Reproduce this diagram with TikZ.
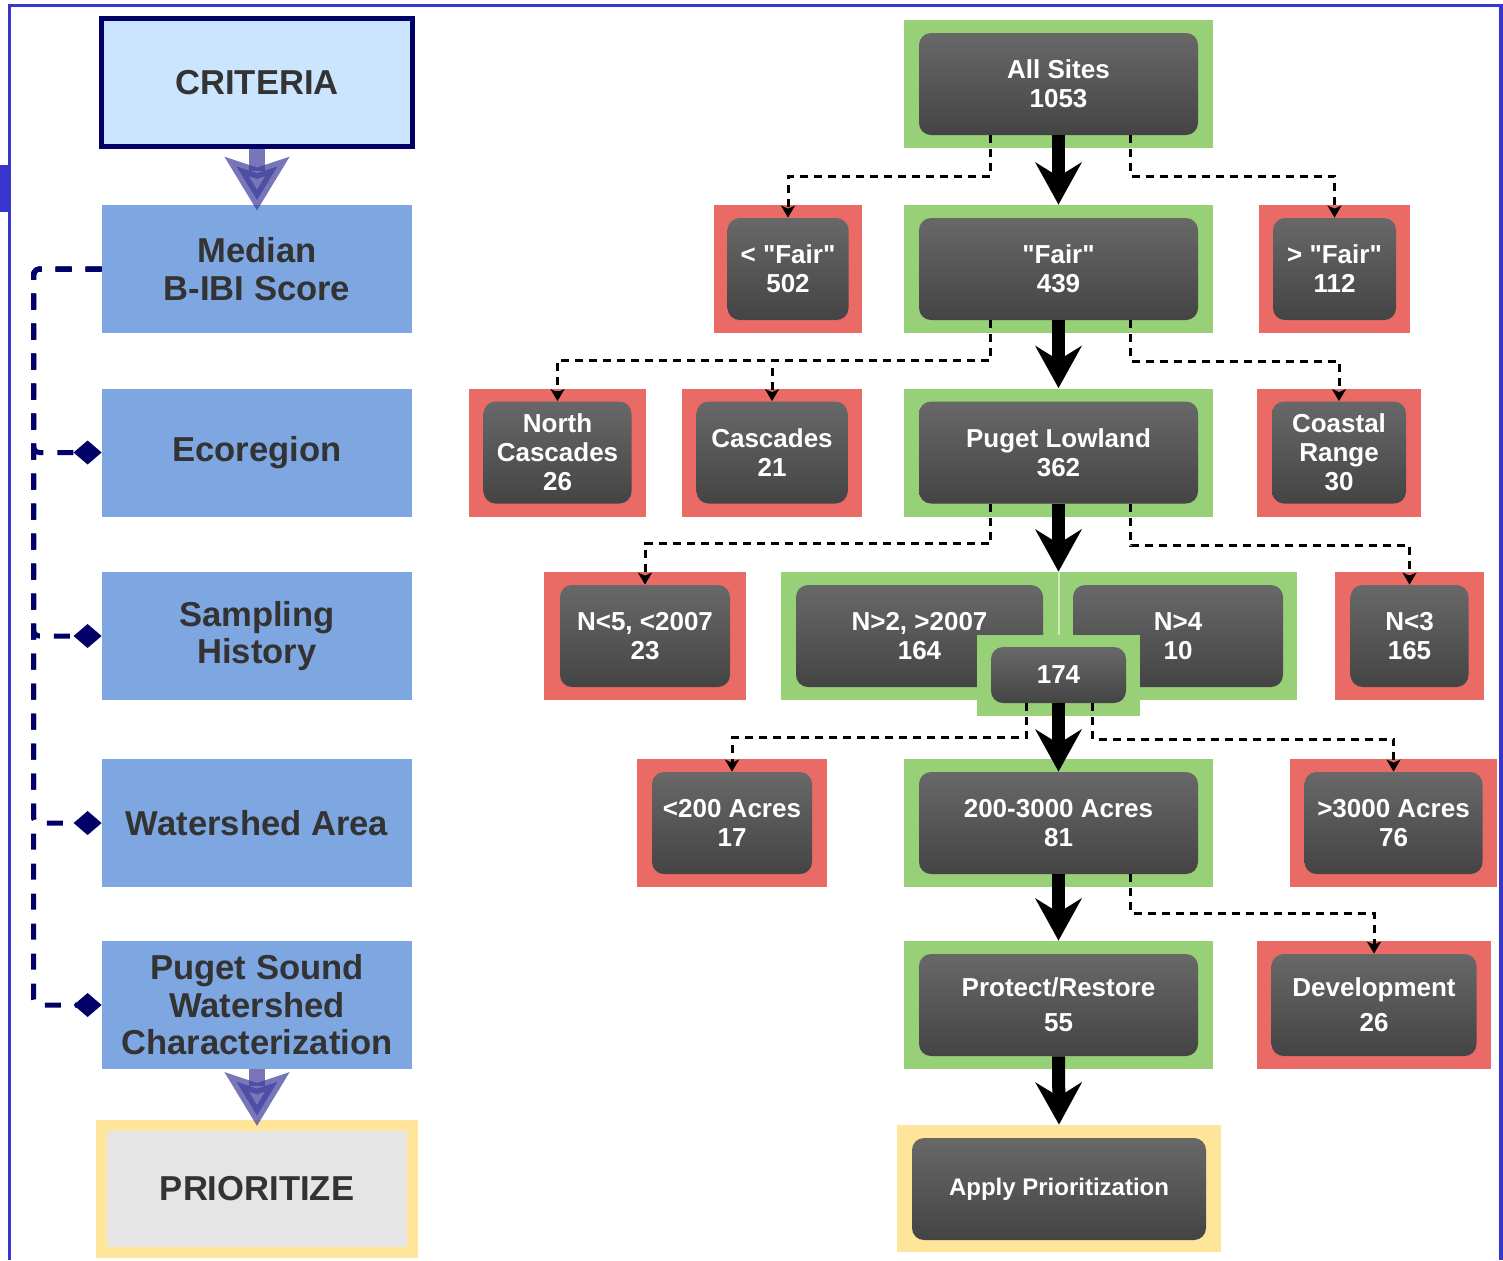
\documentclass[tikz,border=0pt]{standalone}
\usepackage{fontspec}
\setmainfont{Liberation Sans}[Ligatures=TeXOff]
\usetikzlibrary{positioning}
\usetikzlibrary{calc}
\usetikzlibrary{arrows.meta}
\definecolor{passgreen}{RGB}{151,208,119}
\definecolor{failred}{RGB}{234,107,102}
\definecolor{boxtop}{RGB}{104,104,104}
\definecolor{boxbot}{RGB}{68,68,68}
\definecolor{critblue}{RGB}{126,166,224}
\definecolor{critlight}{RGB}{204,229,255}
\definecolor{critnavy}{RGB}{0,0,102}
\definecolor{prioyellow}{RGB}{255,229,153}
\definecolor{priogray}{RGB}{229,229,229}
\definecolor{labelgray}{RGB}{51,51,51}
\definecolor{frameblue}{RGB}{55,55,205}
\definecolor{flowpurple}{RGB}{60,60,155}

\begin{document}
\begin{tikzpicture}[x=0.5pt,y=-0.5pt,
    greenbox/.style={fill=passgreen, inner sep=0pt, minimum height=64pt},
    redbox/.style={fill=failred, inner sep=0pt, minimum height=64pt},
    darkbox/.style={rounded corners=6pt, top color=boxtop, bottom color=boxbot, text=white,
      inner sep=0pt, minimum height=51pt, align=center, font=\fontsize{13}{14.5}\selectfont\bfseries},
    critbox/.style={fill=critblue, inner sep=0pt, minimum width=155pt, minimum height=64pt,
      align=center, text=labelgray, font=\fontsize{17.3}{18.7}\selectfont\bfseries},
    mainflow/.style={line width=6.5pt, -{Stealth[length=21pt,width=23pt,inset=7pt]}},
    sideflow/.style={line width=1.5pt, dash pattern=on 4pt off 3pt, -{Stealth[length=6pt,width=7pt,inset=1.5pt]}},
    critflow/.style={draw=flowpurple, draw opacity=0.7, fill opacity=0.7, line width=8pt,
      -{Stealth[length=26.5pt,width=31.5pt,inset=5pt]}, shorten >=-3pt},
    critlink/.style={draw=critnavy, line width=2.5pt, dash pattern=on 8pt off 7pt, rounded corners=3pt,
      -{Diamond[length=14pt,width=12pt,fill=critnavy]}}]
  \useasboundingbox (0,0) rectangle (1503,1260);

  % frame
  \fill [frameblue] (0,165) rectangle (9,212);
  \draw [frameblue, line width=1.75pt] (9.5,1260) -- (9.5,5.5) -- (1501,5.5) -- (1501,1260);

  % criteria column
  \node [critbox, fill=critlight, draw=critnavy, line width=2.5pt, minimum width=155.5pt, minimum height=64pt] (crit) at (257,82.5) {CRITERIA};
  \node [critbox] (med) at (257,269) {Median\\B-IBI Score};
  \node [critbox] (eco) at (257,452.5) {Ecoregion};
  \node [critbox] (samp) at (257,636) {Sampling\\History};
  \node [critbox] (wsa) at (257,823) {Watershed Area};
  \node [critbox] (pswc) at (257,1005) {Puget Sound\\Watershed\\Characterization};
  \node [critbox, fill=priogray, draw=prioyellow, line width=5.5pt, minimum width=155.5pt, minimum height=63.5pt] (prio) at (257,1189) {PRIORITIZE};

  \draw [critflow] (crit.south) -- (med.north);
  \draw [critflow] (pswc.south) -- (prio.north);

  \draw [critlink] (med.west) -- ++(-68,0) |- (eco.west);
  \draw [critlink] (med.west) -- ++(-68,0) |- (samp.west);
  \draw [critlink] (med.west) -- ++(-68,0) |- (wsa.west);
  \draw [critlink] (med.west) -- ++(-68,0) |- (pswc.west);

  % site tree
  \node [greenbox, minimum width=154.5pt] (all-bg) at (1058.5,84) {};
  \node [darkbox, minimum width=139.5pt] (all) at (1058.5,84) {All Sites\\1053};

  \node [redbox, minimum width=74pt] (ltfair-bg) at (788,269) {};
  \node [darkbox, minimum width=60.5pt] (ltfair) at (788,269) {< "Fair"\\502};
  \node [greenbox, minimum width=154.5pt] (fair-bg) at (1058.5,269) {};
  \node [darkbox, minimum width=139.5pt] (fair) at (1058.5,269) {"Fair"\\439};
  \node [redbox, minimum width=75.5pt] (gtfair-bg) at (1334.5,269) {};
  \node [darkbox, minimum width=61.5pt] (gtfair) at (1334.5,269) {> "Fair"\\112};

  \node [redbox, minimum width=88.5pt] (ncasc-bg) at (557.5,452.5) {};
  \node [darkbox, minimum width=74pt] (ncasc) at (557.5,452.5) {North\\Cascades\\26};
  \node [redbox, minimum width=90pt] (casc-bg) at (772,452.5) {};
  \node [darkbox, minimum width=75.5pt] (casc) at (772,452.5) {Cascades\\21};
  \node [greenbox, minimum width=154.5pt] (puget-bg) at (1058.5,452.5) {};
  \node [darkbox, minimum width=139.5pt] (puget) at (1058.5,452.5) {Puget Lowland\\362};
  \node [redbox, minimum width=82pt] (coast-bg) at (1339,452.5) {};
  \node [darkbox, minimum width=67pt] (coast) at (1339,452.5) {Coastal\\Range\\30};

  \node [redbox, minimum width=101pt] (nlt5-bg) at (645,636) {};
  \node [darkbox, minimum width=85pt] (nlt5) at (645,636) {N<5, <2007\\23};
  \node [greenbox, minimum width=258pt] (grp-bg) at (1039,636) {};
  \node [darkbox, minimum width=123.5pt] (ngt2) at (919.5,636) {N>2, >2007\\164};
  \node [darkbox, minimum width=105pt] (ngt4) at (1178,636) {N>4\\10};
  \node [greenbox, minimum width=81.5pt, minimum height=40.5pt] (n174-bg) at (1058.5,675.5) {};
  \node [darkbox, minimum width=67.5pt, minimum height=28pt] (n174) at (1058.5,675) {174};
  \draw [white!55!passgreen, line width=1pt] (n174-bg.north |- grp-bg.north) -- (n174-bg.north);
  \node [redbox, minimum width=74.5pt] (nlt3-bg) at (1409.5,636) {};
  \node [darkbox, minimum width=59pt] (nlt3) at (1409.5,636) {N<3\\165};

  \node [redbox, minimum width=95pt] (lt200-bg) at (732,823) {};
  \node [darkbox, minimum width=80pt] (lt200) at (732,823) {<200 Acres\\17};
  \node [greenbox, minimum width=154.5pt] (mid-bg) at (1058.5,823) {};
  \node [darkbox, minimum width=139.5pt] (mid) at (1058.5,823) {200-3000 Acres\\81};
  \node [redbox, minimum width=103.5pt] (gt3000-bg) at (1393.5,823) {};
  \node [darkbox, minimum width=89pt] (gt3000) at (1393.5,823) {>3000 Acres\\76};

  \node [greenbox, minimum width=154.5pt] (prot-bg) at (1058.5,1005) {};
  \node [darkbox, minimum width=139.5pt] (prot) at (1058.5,1005) {Protect/Restore\\[3pt]55};
  \node [redbox, minimum width=117pt] (dev-bg) at (1374,1005) {};
  \node [darkbox, minimum width=102.5pt] (dev) at (1374,1005) {Development\\[3pt]26};

  \node [fill=prioyellow, inner sep=0pt, minimum width=162pt, minimum height=63.5pt] (apply-bg) at (1059,1188.5) {};
  \node [darkbox, minimum width=147pt, font=\fontsize{12}{14}\selectfont\bfseries] (apply) at (1059,1189) {Apply Prioritization};

  \draw [mainflow] (all.south) -- (fair-bg.north);
  \draw [mainflow] (fair.south) -- (puget-bg.north);
  \draw [mainflow] (puget.south) -- (puget.south |- grp-bg.north);
  \draw [mainflow] (n174.south) -- (mid.north);
  \draw [mainflow] (mid.south) -- (prot-bg.north);
  \draw [mainflow] (prot.south) -- (apply-bg.north);

  \draw [sideflow] ($(all.south)+(-68,0)$) -- ++(0,41) -| (ltfair.north);
  \draw [sideflow] ($(all.south)+(72,0)$) -- ++(0,41) -| (gtfair.north);
  \draw [sideflow] ($(fair.south)+(-68,0)$) -- ++(0,40) -| (ncasc.north);
  \draw [sideflow] ($(fair.south)+(-68,0)$) -- ++(0,40) -| (casc.north);
  \draw [sideflow] ($(fair.south)+(72,0)$) -- ++(0,41) -| (coast.north);
  \draw [sideflow] ($(puget.south)+(-68,0)$) -- ++(0,40) -| (nlt5.north);
  \draw [sideflow] ($(puget.south)+(72,0)$) -- ++(0,42) -| (nlt3.north);
  \draw [sideflow] ($(n174.south)+(-32,0)$) -- ++(0,34) -| (lt200.north);
  \draw [sideflow] ($(n174.south)+(34,0)$) -- ++(0,36) -| (gt3000.north);
  \draw [sideflow] ($(mid.south)+(72,0)$) -- ++(0,39) -| (dev.north);
\end{tikzpicture}
\end{document}
